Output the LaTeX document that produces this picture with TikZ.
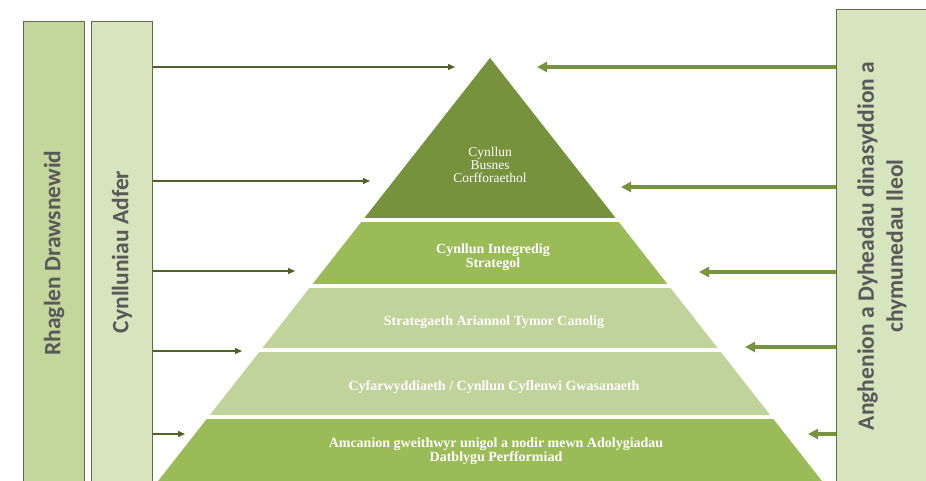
\documentclass[tikz,border=0pt]{standalone}
\usepackage{fontspec}
\setmainfont{Liberation Serif}
\newfontfamily\barfont{Carlito}
\usetikzlibrary{arrows.meta}

\definecolor{lvlone}{HTML}{76923C}
\definecolor{lvltwo}{HTML}{9BBB59}
\definecolor{lvlthree}{HTML}{C0D39A}
\definecolor{barmid}{HTML}{C3D69B}
\definecolor{barlight}{HTML}{D7E4BD}
\definecolor{barline}{HTML}{5F6B4A}
\definecolor{bargrey}{HTML}{595959}
\definecolor{arrdark}{HTML}{4F6228}
\definecolor{arrlight}{HTML}{77933C}

\tikzset{
  barbox/.style={draw=barline, line width=0.8pt, anchor=north west, inner sep=0pt},
  bartext/.style={rotate=90, text=bargrey, align=center,
    font=\barfont\bfseries\fontsize{23.5}{29}\selectfont},
  lvltext/.style={text=white, align=center, inner sep=0pt,
    font=\bfseries\fontsize{14}{14}\selectfont},
  inarr/.style={draw=arrdark, line width=1.4pt, -{Triangle[length=7pt,width=6pt]}},
  outarr/.style={draw=arrlight, line width=3.4pt, -{Triangle[length=10pt,width=10pt]}}
}

\begin{document}
\begin{tikzpicture}
  [x=1pt, y=-1pt]
  \useasboundingbox (0,0) rectangle (926,481);

  % side bars
  \node[barbox, fill=barmid, minimum width=61pt, minimum height=475pt] (rhaglen) at (23,21) {};
  \node[barbox, fill=barlight, minimum width=61pt, minimum height=475pt] (adfer) at (91,21) {};
  \node[barbox, fill=barlight, minimum width=100pt, minimum height=485pt] (anghen) at (836,9) {};
  \node[bartext] (trhaglen) at (54,253) {Rhaglen Drawsnewid};
  \node[bartext] (tadfer) at (122,252) {Cynlluniau Adfer};
  \node[bartext] (tanghen) at (882,246) {Anghenion a Dyheadau dinasyddion a\\chymunedau lleol};

  % pyramid
  \coordinate (apex) at (490,57);
  \begin{scope}
    \clip (apex) -- (155,484) -- (825,484) -- cycle;
    \fill[lvlone] (0,50) rectangle (926,220);
    \fill[lvltwo] (0,220) rectangle (926,286);
    \fill[lvlthree] (0,286) rectangle (926,417);
    \fill[lvltwo] (0,417) rectangle (926,490);
    \foreach \y in {220,286,350,417}
      \draw[white, line width=3.5pt] (0,\y) -- (926,\y);
  \end{scope}
  \draw[white, line width=0.8pt] (155,484) -- (apex) -- (825,484);

  \node[lvltext, font=\fontsize{13.5}{13}\selectfont] (corff) at (490,165) {Cynllun\\Busnes\\Corfforaethol};
  \node[lvltext] (integ) at (493,257) {Cynllun Integredig\\Strategol};
  \node[lvltext] (ariann) at (494,322) {Strategaeth Ariannol Tymor Canolig};
  \node[lvltext] (cyflen) at (494,387) {Cyfarwyddiaeth / Cynllun Cyflenwi Gwasanaeth};
  \node[lvltext] (amcan) at (496,451) {Amcanion gweithwyr unigol a nodir mewn Adolygiadau\\Datblygu Perfformiad};

  % arrows in from both sides
  \foreach \n/\x/\y in {1/455/67,2/370/181,3/295/271,4/242/351,5/185/434}
    \coordinate (l\n) at (\x,\y);
  \foreach \n/\x/\y in {1/537/67,2/621/187,3/699/272,4/745/347,5/808/434}
    \coordinate (r\n) at (\x,\y);
  \foreach \n in {1,...,5}
  {
    \draw[inarr] (adfer.east |- l\n) -- (l\n);
    \draw[outarr] (anghen.west |- r\n) -- (r\n);
  }
\end{tikzpicture}
\end{document}
